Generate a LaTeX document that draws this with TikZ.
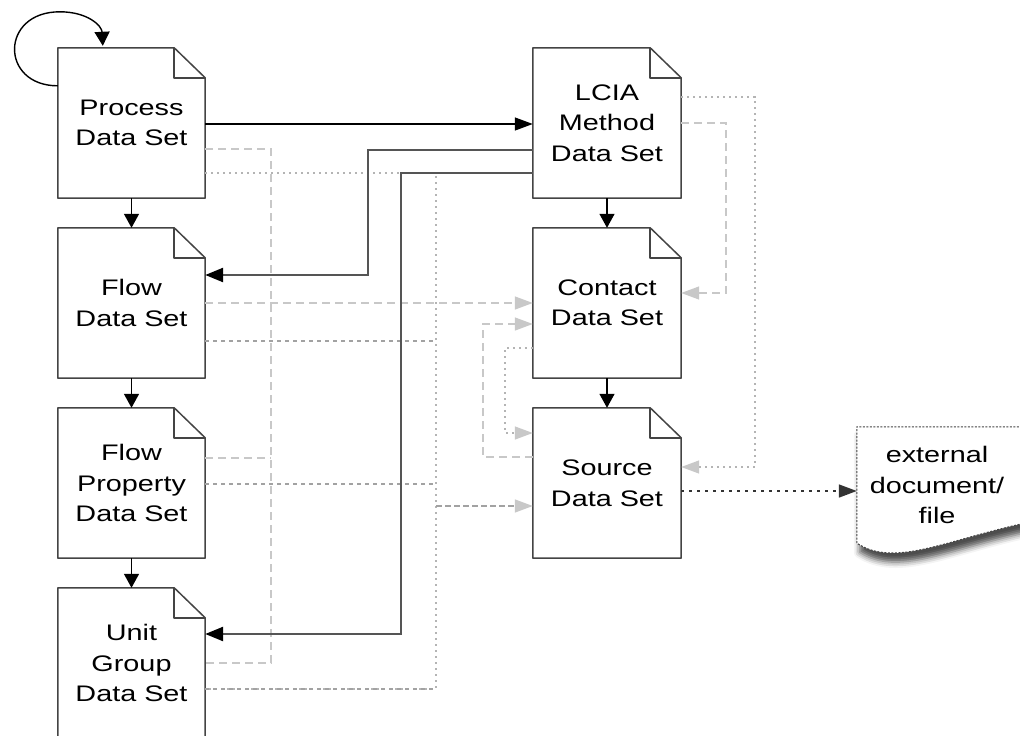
\documentclass[tikz,border=0pt]{standalone}
\usepackage{fontspec}
\setmainfont[FakeStretch=1.28]{Liberation Sans}
\usetikzlibrary{arrows.meta,calc,shadows.blur,backgrounds}

\definecolor{edge}{HTML}{444444}
\definecolor{heavygray}{HTML}{555555}
\definecolor{refgray}{HTML}{C8C8C8}
\definecolor{dotgray}{HTML}{B4B4B4}
\definecolor{midgray}{HTML}{A2A2A2}

\newcommand\docfont{\fontsize{22.5}{30.5}\selectfont}

\begin{document}
\begin{tikzpicture}[x=1pt,y=-1pt,
  docbox/.style={minimum width=147pt,minimum height=150pt,inner sep=0pt,
    align=center,font=\docfont,text=black},
  docline/.style={draw=edge,line width=1.5pt,line join=round},
  tipH/.style={-{Triangle[length=18pt,width=13pt]}},
  tipV/.style={-{Triangle[length=14pt,width=15pt]}},
  greytip/.style={-{Triangle[length=18pt,width=13pt,color=refgray]}},
  link/.style={draw=black,line width=1.4pt},
  heavy/.style={draw=heavygray,line width=2.5pt,-{Triangle[length=18pt,width=14pt,color=black]}},
  cref/.style={draw=refgray,line width=1.4pt,dash pattern=on 8pt off 5pt},
  sref/.style={draw=dotgray,line width=1.4pt,dash pattern=on 2pt off 4pt},
  sref2/.style={draw=midgray,line width=1.3pt,dash pattern=on 4pt off 4pt},
  srcbranch/.style={draw=midgray,line width=1.5pt,dash pattern=on 6pt off 3pt},
  extlink/.style={draw=black!80,line width=1.6pt,dash pattern=on 3pt off 5pt},
  extshape/.style={draw=edge,line width=1pt,dash pattern=on 2pt off 1.5pt,fill=white,
    blur shadow={shadow xshift=3pt,shadow yshift=-9pt,shadow blur radius=6pt,shadow opacity=70}}
]
\useasboundingbox (0,0) rectangle (1020,736);
\clip (0,0) rectangle (1020,736);

% data set documents, left column
\node[docbox] (proc)  at (131.5,123) {Process\\Data Set};
\node[docbox] (flow)  at (131.5,303) {Flow\\Data Set};
\node[docbox] (fprop) at (131.5,483) {Flow\\Property\\Data Set};
\node[docbox] (unit)  at (131.5,663) {Unit\\Group\\Data Set};
% data set documents, right column
\node[docbox,minimum width=148pt] (lcia)    at (607,123) {LCIA\\Method\\Data Set};
\node[docbox,minimum width=148pt] (contact) at (607,303) {Contact\\Data Set};
\node[docbox,minimum width=148pt] (source)  at (607,483) {Source\\Data Set};
% external document
\node[minimum width=160pt,minimum height=116pt,inner sep=0pt,align=center,font=\docfont]
  (ext) at (937,485) {external\\document/\\file};

% document outlines with folded corner
\foreach \n in {proc,flow,fprop,unit,lcia,contact,source}{
  \draw[docline] (\n.north west) -- ([xshift=-31pt]\n.north east)
    -- ([yshift=-30pt]\n.north east) -- (\n.south east) -- (\n.south west) -- cycle;
  \draw[docline] ([xshift=-31pt]\n.north east) |- ([yshift=-30pt]\n.north east);
}

% wavy external document sheet
\begin{scope}[on background layer]
  \draw[extshape] (ext.south west) -- (ext.north west) -- (1030,427) -- (1030,522)
    .. controls (945,540) and (895,568) .. (ext.south west) -- cycle;
\end{scope}

% references to the contact data set
\draw[cref] (proc.east |- 0,149) -| (271,663) -- (unit.east |- 0,663);
\draw[cref] (fprop.east |- 0,458) -- (271,458);
\draw[cref,greytip] (flow.east |- 0,303) -- (contact.west |- 0,303);
\draw[cref,greytip] (lcia.east |- 0,123) -| (726,293) -- (contact.east |- 0,293);
\draw[cref,greytip] (source.west |- 0,457) -| (483,324) -- (contact.west |- 0,324);

% references to the source data set
\draw[sref] (proc.east |- 0,173) -| (436,689) -- (unit.east |- 0,689);
\draw[sref2] (flow.east |- 0,341) -- (436,341);
\draw[sref2] (fprop.east |- 0,484) -- (436,484);
\draw[sref2] (unit.east |- 0,689) -- (436,689);
\draw[srcbranch,greytip] (436,506) -- (source.west |- 0,506);
\draw[sref,greytip] (lcia.east |- 0,97) -| (755,467) -- (source.east |- 0,467);
\draw[sref,greytip] (contact.west |- 0,348) -| (505,433) -- (source.west |- 0,433);

% source to external file
\draw[extlink,tipH] (source.east |- 0,491) -- (ext.west |- 0,491);

% LCIA method links
\draw[link,tipH] (proc.east |- 0,124) -- (lcia.west |- 0,124);
\draw[heavy] (lcia.west |- 0,150) -| (368,275) -- (flow.east |- 0,275);
\draw[heavy] (lcia.west |- 0,173) -| (401,634) -- (unit.east |- 0,634);

% vertical chains
\draw[link,tipV] (proc.south) -- (flow.north);
\draw[link,tipV] (flow.south) -- (fprop.north);
\draw[link,tipV] (fprop.south) -- (unit.north);
\draw[link,tipV] (lcia.south) -- (contact.north);
\draw[link,tipV] (contact.south) -- (source.north);

% self reference of the process data set
\draw[link,tipV] ($(proc.north west)+(0,38)$)
  .. controls ($(proc.north west)+(-58,38)$) and ($(proc.north west)+(-58,-36)$)
  .. ($(proc.north west)+(2,-36)$)
  .. controls ($(proc.north west)+(30,-36)$) and ($(proc.north west)+(44,-22)$)
  .. ($(proc.north west)+(45,-2)$);
\end{tikzpicture}
\end{document}
